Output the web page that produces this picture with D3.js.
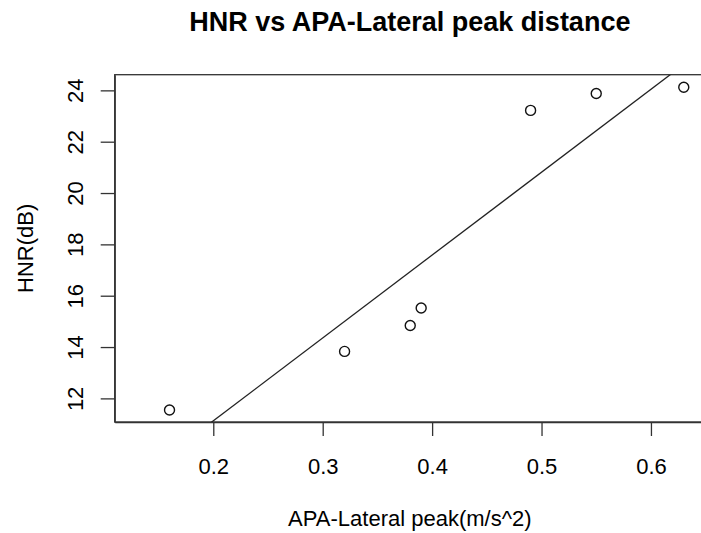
<!DOCTYPE html>
<html>
<head>
<meta charset="utf-8">
<script src="https://cdn.jsdelivr.net/npm/d3@7"></script>
<style>
  html, body { margin: 0; padding: 0; background: #fff; }
  svg { display: block; }
  text { font-family: "Liberation Sans", Arial, Helvetica, sans-serif; fill: #000; }
</style>
</head>
<body>
<svg id="chart" width="701" height="533"></svg>
<script>
// ---- data ----
const apaLateral = [0.16, 0.32, 0.38, 0.39, 0.49, 0.55, 0.63];
const hnr        = [11.55, 13.83, 14.84, 15.52, 23.22, 23.88, 24.12];
const xTicks = [0.2, 0.3, 0.4, 0.5, 0.6];
const yTicks = [12, 14, 16, 18, 20, 22, 24];
const titleText = "HNR vs APA-Lateral peak distance";
const xLabel = "APA-Lateral peak(m/s^2)";
const yLabel = "HNR(dB)";

const svg = d3.select("#chart");
const plot = { left: 114.7, right: 705, top: 74.7, bottom: 422 };

const x = d3.scaleLinear().domain([0.1099, 0.6494]).range([plot.left, plot.right]);
const y = d3.scaleLinear().domain([11.08, 24.61]).range([plot.bottom, plot.top]);

// clip
svg.append("defs").append("clipPath").attr("id", "clip")
  .append("rect")
  .attr("x", plot.left).attr("y", plot.top)
  .attr("width", plot.right - plot.left).attr("height", plot.bottom - plot.top);

// box
svg.append("rect")
  .attr("x", plot.left).attr("y", plot.top)
  .attr("width", plot.right - plot.left).attr("height", plot.bottom - plot.top)
  .attr("fill", "none").attr("stroke", "#333").attr("stroke-width", 1.3);

// axes
const fs = 22;
const xAxis = d3.axisBottom(x).tickValues(xTicks).tickFormat(d3.format(".1f"))
  .tickSizeInner(14).tickSizeOuter(0).tickPadding(22);
const gx = svg.append("g").attr("transform", `translate(0,${plot.bottom})`).call(xAxis);
gx.select(".domain").attr("stroke", "#333").attr("stroke-width", 1.3);
gx.selectAll(".tick line").attr("stroke", "#333").attr("stroke-width", 1.3);
gx.selectAll(".tick text").attr("font-size", fs).attr("font-family", "Liberation Sans, Arial, sans-serif")
  .attr("fill", "#000");

const yAxis = d3.axisLeft(y).tickValues(yTicks).tickFormat(d3.format("d"))
  .tickSizeInner(14).tickSizeOuter(0).tickPadding(0);
const gy = svg.append("g").attr("transform", `translate(${plot.left},0)`).call(yAxis);
gy.select(".domain").attr("stroke", "#333").attr("stroke-width", 1.3);
gy.selectAll(".tick line").attr("stroke", "#333").attr("stroke-width", 1.3);
gy.selectAll(".tick text")
  .attr("font-size", fs).attr("font-family", "Liberation Sans, Arial, sans-serif").attr("fill", "#000")
  .attr("x", 0).attr("dy", null).attr("y", 0)
  .attr("text-anchor", "middle")
  .attr("transform", "translate(-32,0) rotate(-90)");

// regression line (least squares from data)
const mx = d3.mean(apaLateral), my = d3.mean(hnr);
let sxy = 0, sxx = 0;
apaLateral.forEach((v, i) => { sxy += (v - mx) * (hnr[i] - my); sxx += (v - mx) * (v - mx); });
const slope = sxy / sxx, intercept = my - slope * mx;
const xd = x.domain();
svg.append("line")
  .attr("clip-path", "url(#clip)")
  .attr("x1", x(xd[0])).attr("y1", y(intercept + slope * xd[0]))
  .attr("x2", x(xd[1])).attr("y2", y(intercept + slope * xd[1]))
  .attr("stroke", "#222").attr("stroke-width", 1.3);

// points
svg.append("g").selectAll("circle")
  .data(apaLateral.map((v, i) => [v, hnr[i]]))
  .join("circle")
  .attr("cx", d => x(d[0])).attr("cy", d => y(d[1]))
  .attr("r", 5).attr("fill", "none").attr("stroke", "#111").attr("stroke-width", 1.4);

// title & labels
svg.append("text").attr("x", (plot.left + plot.right) / 2).attr("y", 31)
  .attr("text-anchor", "middle").attr("font-size", 27).attr("font-weight", "bold")
  .text(titleText);
svg.append("text").attr("x", (plot.left + plot.right) / 2).attr("y", 526)
  .attr("text-anchor", "middle").attr("font-size", fs)
  .text(xLabel);
svg.append("text")
  .attr("transform", `translate(33,${(plot.top + plot.bottom) / 2}) rotate(-90)`)
  .attr("text-anchor", "middle").attr("font-size", fs)
  .text(yLabel);
</script>
</body>
</html>
